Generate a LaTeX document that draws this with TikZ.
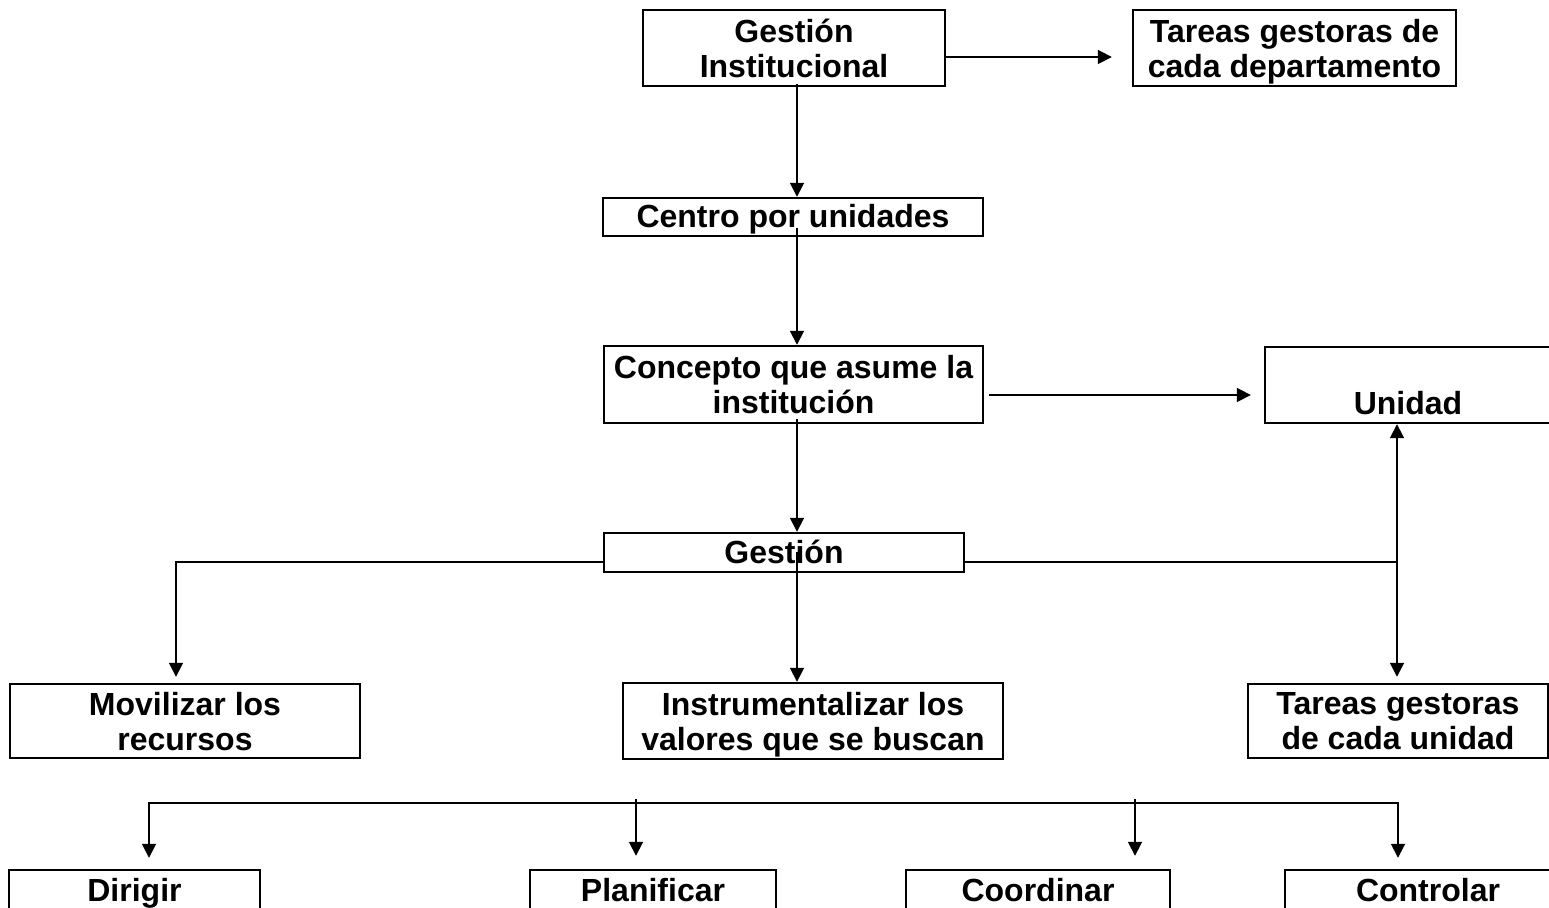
\documentclass[tikz,border=0pt]{standalone}
\usepackage{fontspec}
\setmainfont{Liberation Sans}
\usetikzlibrary{arrows.meta,calc}
\begin{document}
\begin{tikzpicture}[x=0.5pt,y=-0.5pt,
  box/.style={draw, line width=1.2pt, inner sep=0pt, align=center, text depth=0pt,
    font=\fontsize{16}{17.5}\selectfont\bfseries},
  oneline/.style={box, text height=12pt, text depth=1pt},
  ln/.style={line width=0.9pt},
  arr/.style={line width=0.9pt, -{Triangle[length=7pt,width=7pt]}},
  arrtwo/.style={line width=0.9pt, {Triangle[length=7pt,width=7pt]}-{Triangle[length=7pt,width=7pt]}}]
\useasboundingbox (0,0) rectangle (1549,908);
\clip (0,0) rectangle (1549,908);

% boxes
\node[box, minimum width=151pt, minimum height=38pt] (GI) at (794,48) {Gestión\\Institucional};
\node[box, minimum width=161.5pt, minimum height=38pt] (TD) at (1294.5,48) {Tareas gestoras de\\cada departamento};
\node[oneline, minimum width=190pt, minimum height=19pt] (CU) at (793,217) {Centro por unidades};
\node[box, minimum width=189.5pt, minimum height=38.5pt] (CI) at (793.5,384.5) {Concepto que asume la\\institución};
\node[box, minimum width=143pt, minimum height=38pt] (UN) at (1408,385) {\strut\\Unidad};
\node[oneline, minimum width=180pt, minimum height=19.5pt] (GE) at (784,552.5) {Gestión};
\node[box, minimum width=175pt, minimum height=37pt] (MR) at (185,721) {Movilizar los\\recursos};
\node[box, minimum width=190pt, minimum height=38pt] (IV) at (813,721) {Instrumentalizar los\\valores que se buscan};
\node[box, minimum width=150pt, minimum height=37pt] (TU) at (1398,721) {Tareas gestoras\\de cada unidad};
\node[oneline, minimum width=125.5pt, minimum height=21pt] (DI) at (134.5,891) {Dirigir};
\node[oneline, minimum width=123pt, minimum height=21pt] (PL) at (653,891) {Planificar};
\node[oneline, minimum width=132pt, minimum height=21pt] (CO) at (1038,891) {Coordinar};
\node[oneline, minimum width=143pt, minimum height=21pt] (CT) at (1428,891) {Controlar};

% vertical spine
\coordinate (sx) at (797,0);
\draw[arr] ($(GI.south -| sx)+(0,-3)$) -- (CU.north -| sx);
\draw[arr] ($(CU.south -| sx)+(0,-9)$) -- (CI.north -| sx);
\draw[arr] ($(CI.south -| sx)+(0,-5)$) -- (GE.north -| sx);
\draw[arr] (GE.center -| sx) -- (IV.north -| sx);

% side arrows
\draw[arr] ($(GI.east)+(0,9)$) -- ($(TD.west)+(-20,9)$);
\draw[arr] ($(CI.east)+(5,10.5)$) -- ($(UN.west)+(-13,10)$);

% branches of Gestión
\coordinate (gl) at (176,562);
\coordinate (gr) at (1397,562);
\draw[arr] (GE.west |- gl) -- (gl) -- ($(gl |- MR.north)+(0,-6)$);
\draw[arr] (GE.east |- gr) -- (gr) -- (UN.south -| gr);
\draw[arr] (gr) -- ($(gr |- TU.north)+(0,-6)$);

% bottom bus
\coordinate (b1) at (149,803);
\coordinate (b2) at (636,803);
\coordinate (b3) at (1135,803);
\coordinate (b4) at (1398,803);
\draw[arrtwo] ($(b1 |- DI.north)+(0,-11)$) -- (b1) -- (b4) -- ($(b4 |- CT.north)+(0,-11)$);
\draw[arr] ($(b2)+(0,-4)$) -- ($(b2 |- PL.north)+(0,-13)$);
\draw[arr] ($(b3)+(0,-4)$) -- ($(b3 |- CO.north)+(0,-13)$);
\end{tikzpicture}
\end{document}
